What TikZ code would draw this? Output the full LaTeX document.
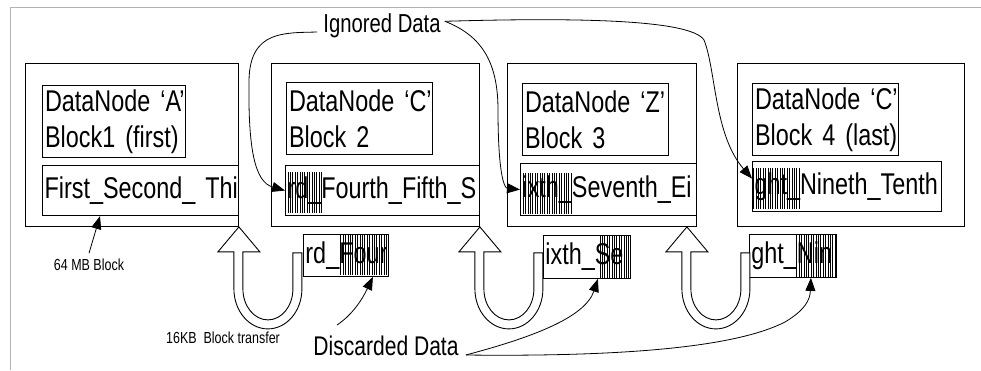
\documentclass[tikz,border=0pt]{standalone}
\usepackage{fontspec}
\setmainfont{Liberation Sans}[FakeStretch=0.84]
\newfontfamily\tallfont{Liberation Sans}[FakeStretch=0.78]
\usetikzlibrary{arrows.meta,calc,patterns.meta}

\begin{document}
\begin{tikzpicture}[x=1pt,y=-1pt, every node/.style={inner sep=0pt},
  nodebox/.style={draw, line width=0.9pt, minimum height=163pt, anchor=north west},
  labelbox/.style={draw, line width=1.1pt, minimum height=72pt, inner sep=2.5pt, anchor=north west, align=left, font=\tallfont\fontsize{30}{36}\selectfont},
  stripbox/.style={draw, line width=1.1pt, minimum height=50pt, inner sep=2pt, anchor=north west, align=left, font=\tallfont\fontsize{30}{32}\selectfont},
  partbox/.style={draw, line width=0.9pt, minimum height=42pt, inner sep=2pt, anchor=north west, align=left, font=\tallfont\fontsize{30}{32}\selectfont},
  hatch/.style={pattern={Lines[angle=90,distance=2.4pt,line width=0.9pt]}},
  transfer/.style={draw, fill=white, line width=0.9pt, line join=miter},
  pointer/.style={line width=0.8pt, -{Triangle[length=13pt,width=10pt]}},
  bigtext/.style={font=\tallfont\fontsize{26}{28}\selectfont},
  smalltext/.style={font=\tallfont\fontsize{16}{18}\selectfont}]
\useasboundingbox (0,0) rectangle (981,370);
\draw[gray!60, line width=0.8pt] (981,7) -- (10,7) -- (10,370);

% the four datanodes
\node[nodebox, minimum width=213pt] (dn1) at (25,63) {};
\node[nodebox, minimum width=208pt] (dn2) at (271,63) {};
\node[nodebox, minimum width=189pt] (dn3) at (507,63) {};
\node[nodebox, minimum width=227pt] (dn4) at (737,63) {};

\node[labelbox, text width=138pt] (l1) at (42,85) {\mbox{DataNode ‘A’}\\\mbox{Block1 (first)}};
\node[labelbox, text width=141pt] (l2) at (286,82) {\mbox{DataNode ‘C’}\\\mbox{Block 2}};
\node[labelbox, text width=141pt] (l3) at (522,83) {\mbox{DataNode ‘Z’}\\\mbox{Block 3}};
\node[labelbox, text width=141pt] (l4) at (752,83) {\mbox{DataNode ‘C’}\\\mbox{Block 4 (last)}};

\node[stripbox, text width=192pt] (s1) at (42,165) {\mbox{First\_Second\_ Thi}};
\node[stripbox, text width=190pt] (s2) at (285,165) {\mbox{rd\_Fourth\_Fifth\_S}};
\node[stripbox, text width=172pt, minimum height=52pt] (s3) at (520,163) {\mbox{ixth\_Seventh\_Ei}};
\node[stripbox, text width=185pt] (s4) at (752,161) {\mbox{ght\_Nineth\_Tenth}};

% transferred pieces
\node[partbox, text width=81pt] (b2) at (303,234) {\mbox{rd\_Four}};
\node[partbox, text width=83pt, minimum height=43pt] (b3) at (543,235) {\mbox{ixth\_Se}};
\node[partbox, text width=83pt, minimum height=43pt] (b4) at (749,234) {\mbox{ght\_Nin}};

\fill[hatch] (285,172) rectangle (322,212);
\fill[hatch] (339,235) rectangle (388,275);
\fill[hatch] (520,173) rectangle (572,213);
\fill[hatch] (598,236) rectangle (630,277);
\fill[hatch] (752,168) rectangle (800,208);
\fill[hatch] (795,235) rectangle (836,276);

% hollow u-turn arrows
\newcommand\blocktransfer[1]{%
  \draw[transfer] (#1) -- ++(21,25) -- ++(-17,0) -- ++(0,37)
    arc[start angle=180, end angle=0, x radius=25, y radius=31]
    -- ++(0,-36) -- ++(9,0) -- ++(0,36)
    arc[start angle=0, end angle=180, x radius=34, y radius=40]
    -- ++(0,-37) -- ++(-16,0) -- cycle;}
\blocktransfer{dn1.south east}
\blocktransfer{dn2.south east}
\blocktransfer{[xshift=-10pt]dn3.south east}

% labels
\node[bigtext, anchor=base] (ign) at (382,32) {Ignored Data};
\node[bigtext, anchor=base, font=\tallfont\fontsize{27}{28}\selectfont] (disc) at (386,355) {Discarded Data};
\node[smalltext, anchor=base] (mb) at (89,270) {64 MB Block};
\node[smalltext, anchor=base] (xfer) at (223,343) {16KB\ \ Block transfer};

\draw[pointer] ([yshift=5pt]mb.north) -- ([xshift=58pt]s1.south west);
\draw[pointer] ([xshift=-6pt]ign.base west) .. controls (285,33) and (250,30) .. (249,80)
  .. controls (248,150) and (255,182) .. (s2.west);
\draw[pointer] ([xshift=4pt,yshift=4pt]ign.east) .. controls (480,35) and (498,60) .. (498,110)
  .. controls (498,172) and (504,188) .. (s3.west);
\draw[pointer] ([xshift=4pt,yshift=4pt]ign.east) .. controls (560,18) and (690,18) .. (704,40)
  .. controls (716,70) and (714,135) .. ([yshift=8pt]s4.west);

\coordinate (d1) at (337,325);
\draw[pointer] (d1) .. controls (352,315) and (362,300) .. ([xshift=-16pt]b2.south east);
\draw[pointer] ([xshift=7pt]disc.base east) .. controls (530,338) and (585,318) .. ([xshift=-33pt]b3.south east);
\draw[pointer] ([xshift=7pt]disc.base east) .. controls (640,357) and (740,345) .. (785,322)
  .. controls (805,310) and (810,300) .. ([xshift=-26pt]b4.south east);
\end{tikzpicture}
\end{document}
